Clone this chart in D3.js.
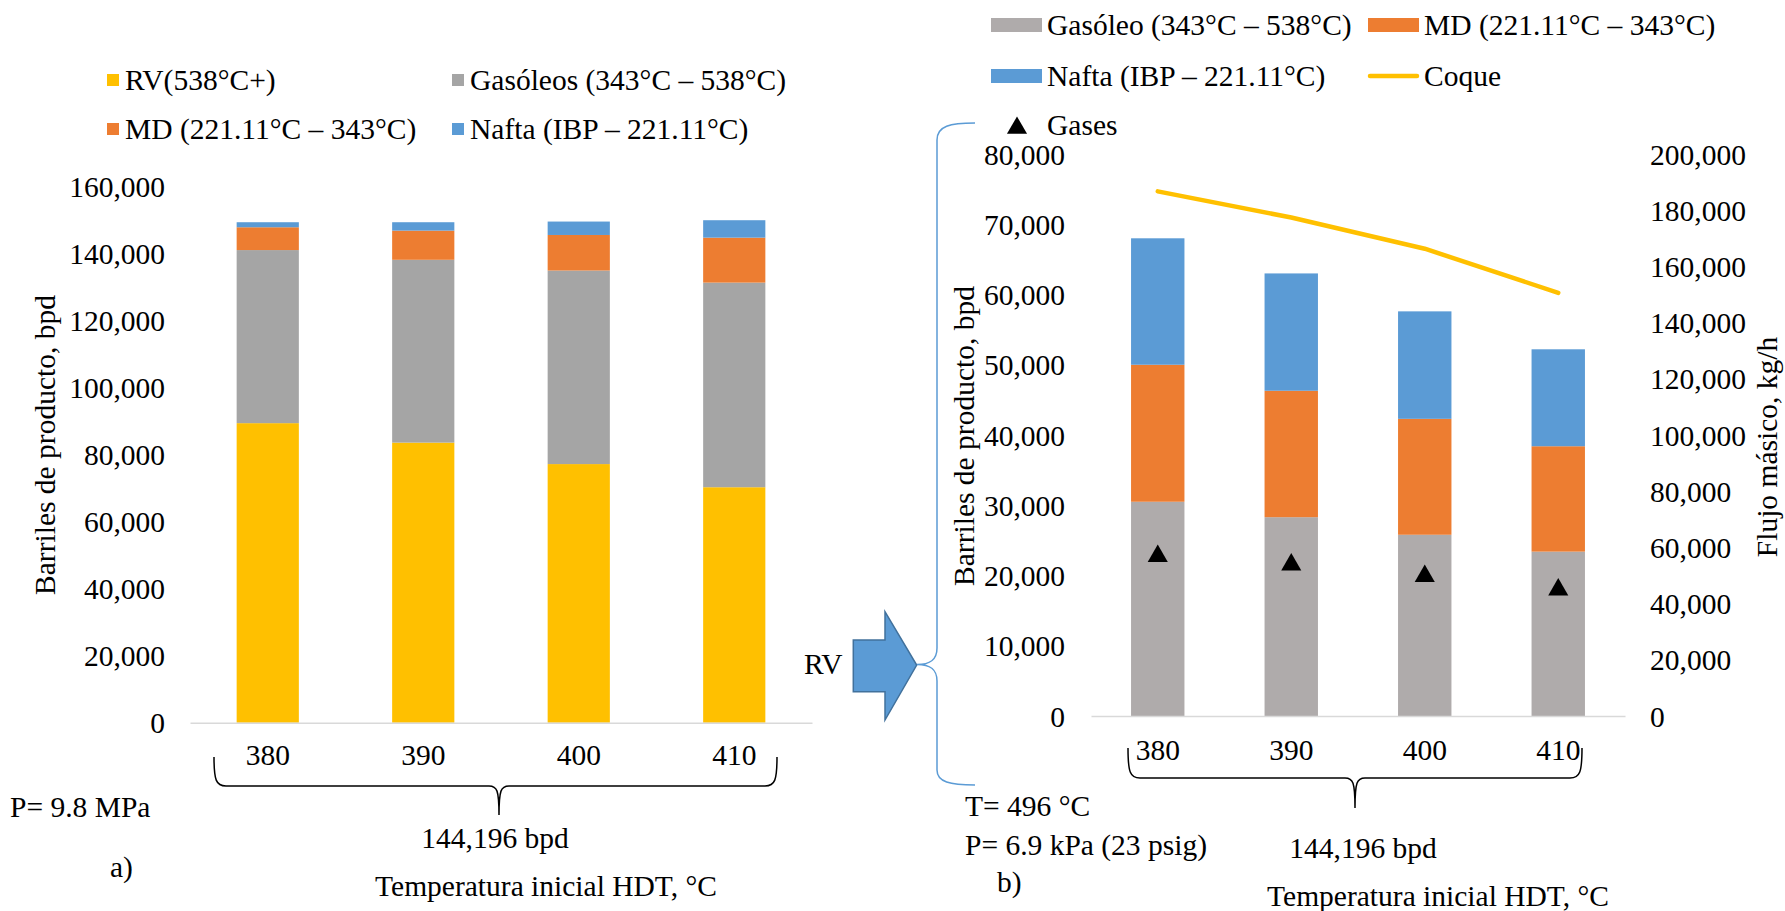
<!DOCTYPE html>
<html>
<head>
<meta charset="utf-8">
<script src="https://cdn.jsdelivr.net/npm/d3@7"></script>
<style>
  body { margin: 0; background: #fff; }
  svg text { font-family: 'Liberation Serif', Tinos, 'Times New Roman', Times, 'DejaVu Serif', serif; font-size: 29.5px; fill: #000; }
</style>
</head>
<body>
<svg id="chart" width="1785" height="911"></svg>
<script>
// categories: initial HDT temperature, °C
const categories = ["380", "390", "400", "410"];

// a) HDT products at 9.8 MPa, bpd
const rvA = [89300, 83500, 77100, 70200];
const gasoleosA = [51600, 54500, 57700, 61000];
const mdA = [6800, 8700, 10600, 13400];
const naftaA = [1500, 2500, 4000, 5200];
const ticksA = [0, 20000, 40000, 60000, 80000, 100000, 120000, 140000, 160000];

// b) coking of the RV, bpd (bars) and kg/h (coque, gases)
const gasoleoB = [30500, 28300, 25800, 23400];
const mdB = [19500, 18000, 16500, 15000];
const naftaB = [18000, 16700, 15300, 13800];
const coque = [186700, 177400, 166300, 150600];
const gases = [57900, 54900, 50800, 46000];
const ticksB = [0, 10000, 20000, 30000, 40000, 50000, 60000, 70000, 80000];
const ticksB2 = [0, 20000, 40000, 60000, 80000, 100000, 120000, 140000, 160000, 180000, 200000];

const colors = {
    rv: '#ffc000', gasA: '#a5a5a5', md: '#ed7d31', nafta: '#5b9bd5',
    gasB: '#afabab', coque: '#ffc000'
};
const fmt = d3.format(',');
const svg = d3.select('#chart');

function drawStack(g, x, y, keys, table, colorOf) {
    const layers = d3.stack().keys(keys)(table);
    g.selectAll('g').data(layers).join('g')
        .attr('fill', d => colorOf[d.key])
        .selectAll('rect').data(d => d).join('rect')
            .attr('x', d => x(d.data.cat))
            .attr('width', x.bandwidth())
            .attr('y', d => y(d[1]))
            .attr('height', d => y(d[0]) - y(d[1]));
}

function label(x, y, txt, anchor = 'start') {
    return svg.append('text').attr('x', x).attr('y', y).attr('text-anchor', anchor).text(txt);
}

function bottomAxis(x, y0, labelY) {
    svg.append('g')
        .attr('transform', `translate(0,${y0})`)
        .call(d3.axisBottom(x).tickSize(0).tickSizeOuter(0).tickPadding(0))
        .call(g => g.select('.domain').attr('stroke', '#d9d9d9').attr('stroke-width', 1.5))
        .call(g => g.selectAll('text').attr('y', labelY - y0).attr('dy', '0.34em'));
}

// ---------- a) ----------
const xA = d3.scaleBand(categories, [190, 812]).paddingInner(0.6).paddingOuter(0.3);
const yA = d3.scaleLinear([0, 160000], [722.7, 186]);

const tableA = categories.map((c, i) => ({ cat: c, rv: rvA[i], gasA: gasoleosA[i], md: mdA[i], nafta: naftaA[i] }));
drawStack(svg.append('g'), xA, yA, ['rv', 'gasA', 'md', 'nafta'], tableA, colors);

svg.append('g').attr('transform', 'translate(165,0)')
    .call(d3.axisLeft(yA).tickValues(ticksA).tickFormat(fmt).tickSize(0).tickPadding(0))
    .call(g => g.select('.domain').remove())
    .call(g => g.selectAll('text').attr('dy', '0.34em'));

bottomAxis(xA, yA(0), 755);

svg.append('text')
    .attr('transform', 'translate(55,445) rotate(-90)')
    .attr('text-anchor', 'middle')
    .text('Barriles de producto, bpd');

// legend a)
const legA = [
    { key: 'rv', text: 'RV(538°C+)', x: 107, y: 80 },
    { key: 'gasA', text: 'Gasóleos (343°C – 538°C)', x: 452, y: 80 },
    { key: 'md', text: 'MD (221.11°C – 343°C)', x: 107, y: 129 },
    { key: 'nafta', text: 'Nafta (IBP – 221.11°C)', x: 452, y: 129 }
];
const lgA = svg.append('g').selectAll('g').data(legA).join('g')
    .attr('transform', d => `translate(${d.x},${d.y})`);
lgA.append('rect').attr('x', 0).attr('y', -6).attr('width', 12).attr('height', 12).attr('fill', d => colors[d.key]);
lgA.append('text').attr('x', 18).attr('y', 10).text(d => d.text);

// brace a)
svg.append('path')
    .attr('d', 'M214,757 C214,780 216,786 226,786 L489,786 C497,786 499,790 499,815 C499,790 501,786 509,786 L765,786 C775,786 777,780 777,757')
    .attr('fill', 'none').attr('stroke', '#000').attr('stroke-width', 1.5);

label(10, 817, 'P= 9.8 MPa');
label(495, 847.5, '144,196 bpd', 'middle');
label(110, 877, 'a)');
label(546, 896, 'Temperatura inicial HDT, °C', 'middle');

// ---------- arrow + blue brace ----------
svg.append('polygon')
    .attr('points', '853.3,640 885,640 885,611.7 916.7,665 885,720 885,691.7 853.3,691.7')
    .attr('fill', '#5b9bd5').attr('stroke', '#41719c').attr('stroke-width', 1.5);
label(804, 674, 'RV');
svg.append('path')
    .attr('d', 'M975,123 C950,123 937,126 937,140 L937,648 C937,660 930,664.5 917,664.5 C930,664.5 937,669 937,681 L937,770 C937,782 950,785 975,785')
    .attr('fill', 'none').attr('stroke', '#5b9bd5').attr('stroke-width', 1.5);

// ---------- b) ----------
const xB = d3.scaleBand(categories, [1091, 1625]).paddingInner(0.6).paddingOuter(0.3);
const yB = d3.scaleLinear([0, 80000], [716, 154]);
const yB2 = d3.scaleLinear([0, 200000], [716, 154]);
const mid = c => xB(c) + xB.bandwidth() / 2;

const tableB = categories.map((c, i) => ({ cat: c, gasB: gasoleoB[i], md: mdB[i], nafta: naftaB[i] }));
drawStack(svg.append('g'), xB, yB, ['gasB', 'md', 'nafta'], tableB, colors);

svg.append('g').attr('transform', 'translate(1065,0)')
    .call(d3.axisLeft(yB).tickValues(ticksB).tickFormat(fmt).tickSize(0).tickPadding(0))
    .call(g => g.select('.domain').remove())
    .call(g => g.selectAll('text').attr('dy', '0.34em'));

svg.append('g').attr('transform', 'translate(1650,0)')
    .call(d3.axisRight(yB2).tickValues(ticksB2).tickFormat(fmt).tickSize(0).tickPadding(0))
    .call(g => g.select('.domain').remove())
    .call(g => g.selectAll('text').attr('dy', '0.34em'));

bottomAxis(xB, yB(0), 750);

svg.append('path')
    .datum(coque)
    .attr('fill', 'none').attr('stroke', colors.coque).attr('stroke-width', 4.5)
    .attr('stroke-linecap', 'round').attr('stroke-linejoin', 'round')
    .attr('d', d3.line().x((d, i) => mid(categories[i])).y(d => yB2(d)));

const tri = d3.symbol(d3.symbolTriangle, 175);
svg.append('g').selectAll('path').data(gases).join('path')
    .attr('transform', (d, i) => `translate(${mid(categories[i])},${yB2(d) + 2.9})`)
    .attr('d', tri).attr('fill', '#000');

svg.append('text')
    .attr('transform', 'translate(974,436) rotate(-90)')
    .attr('text-anchor', 'middle')
    .text('Barriles de producto, bpd');
svg.append('text')
    .attr('transform', 'translate(1777,447) rotate(-90)')
    .attr('text-anchor', 'middle')
    .text('Flujo másico, kg/h');

// legend b)
const legB = [
    { key: 'gasB', text: 'Gasóleo (343°C – 538°C)', x: 991, y: 25, type: 'rect' },
    { key: 'md', text: 'MD (221.11°C – 343°C)', x: 1368, y: 25, type: 'rect' },
    { key: 'nafta', text: 'Nafta (IBP – 221.11°C)', x: 991, y: 76, type: 'rect' },
    { key: 'coque', text: 'Coque', x: 1368, y: 76, type: 'line' }
];
const lgB = svg.append('g').selectAll('g').data(legB).join('g')
    .attr('transform', d => `translate(${d.x},${d.y})`);
lgB.filter(d => d.type === 'rect').append('rect')
    .attr('x', 0).attr('y', -7).attr('width', 51).attr('height', 14).attr('fill', d => colors[d.key]);
lgB.filter(d => d.type === 'line').append('line')
    .attr('x1', 2).attr('x2', 49).attr('y1', 0).attr('y2', 0)
    .attr('stroke', d => colors[d.key]).attr('stroke-width', 4.5).attr('stroke-linecap', 'round');
lgB.append('text').attr('x', 56).attr('y', 10).text(d => d.text);

svg.append('path').attr('transform', 'translate(1017,128)').attr('d', tri).attr('fill', '#000');
label(1047, 135, 'Gases');

// brace b)
svg.append('path')
    .attr('d', 'M1128,748 C1128,772 1130,778 1140,778 L1345,778 C1353,778 1355,782 1355,808 C1355,782 1357,778 1365,778 L1570,778 C1580,778 1582,772 1582,748')
    .attr('fill', 'none').attr('stroke', '#000').attr('stroke-width', 1.5);

label(965, 816, 'T= 496 °C');
label(965, 855, 'P= 6.9 kPa (23 psig)');
label(997, 892, 'b)');
label(1363, 858, '144,196 bpd', 'middle');
label(1438, 906, 'Temperatura inicial HDT, °C', 'middle');
</script>
</body>
</html>
